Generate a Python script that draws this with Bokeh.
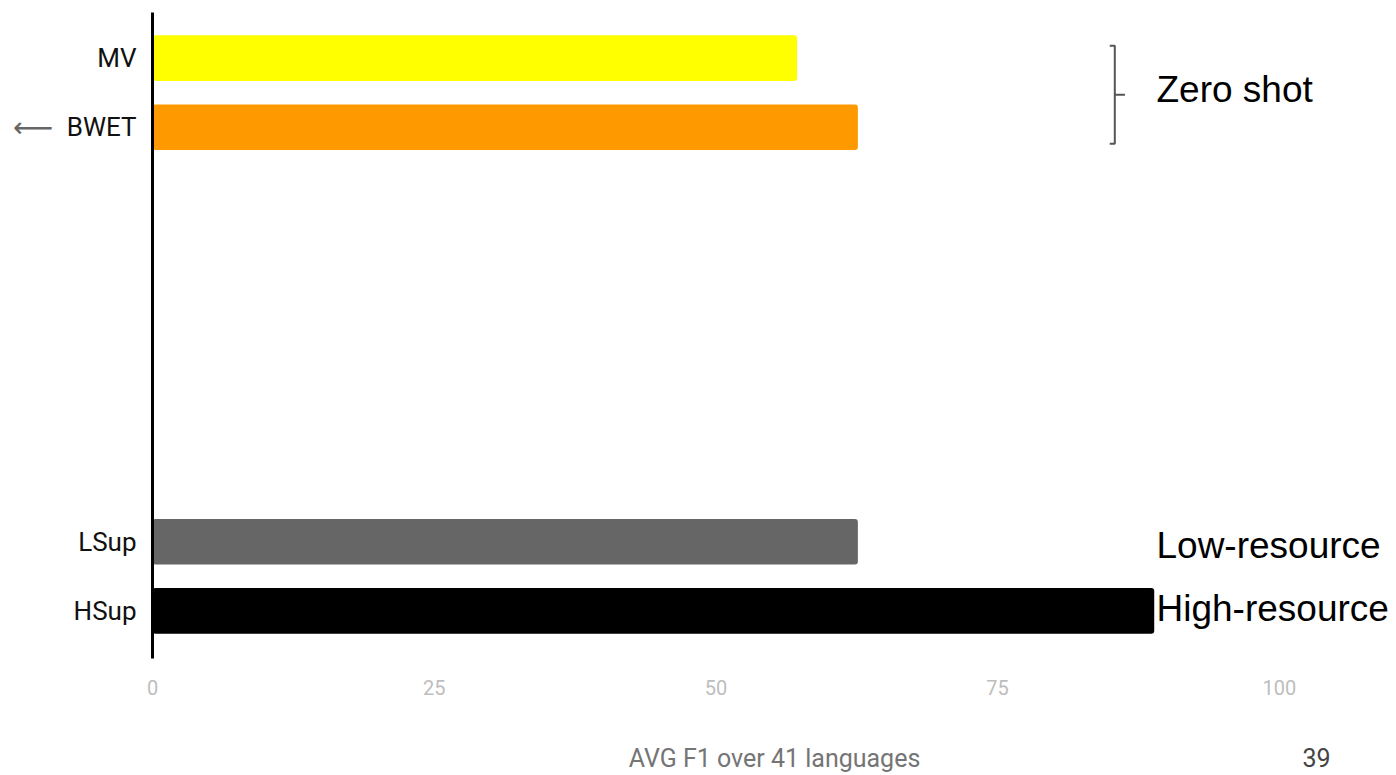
from bokeh.plotting import figure
from bokeh.models import Range1d, FixedTicker, Label, LinearAxis
from bokeh.embed import file_html
from bokeh.resources import INLINE

# ---- data ----
categories = ["MV", "BWET", "LSup", "HSup"]
values = [57.2, 62.6, 62.6, 88.9]
colors = ["#FFFF00", "#FF9900", "#666666", "#000000"]
slots = [0, 1, 7, 8]  # vertical slot for each bar (gap between groups)
x_ticks = [0, 25, 50, 75, 100]
x_title = "AVG F1 over 41 languages"
group_labels = ["Zero shot", "Low-resource", "High-resource"]
page_number = "39"

p = figure(width=1396, height=775, output_backend="svg", toolbar_location=None,
           x_range=Range1d(0, 110.4), y_range=Range1d(8.69, -0.66),
           min_border_left=152, min_border_right=0, min_border_top=12, min_border_bottom=115)
p.outline_line_color = None
p.background_fill_color = "white"
p.border_fill_color = "white"
p.xgrid.visible = False
p.ygrid.visible = False

p.hbar(y=slots, left=0, right=values, height=0.66, color=colors, line_color=None,
       border_radius=3)

# x axis
p.xaxis.ticker = FixedTicker(ticks=x_ticks)
p.xaxis.axis_line_color = None
p.xaxis.major_tick_line_color = None
p.xaxis.minor_tick_line_color = None
p.xaxis.major_label_text_color = "#bdbdbd"
p.xaxis.major_label_text_font = "Roboto"
p.xaxis.major_label_text_font_size = "20px"
p.xaxis.major_label_standoff = 15
p.xaxis.axis_label = x_title
p.xaxis.axis_label_text_font = "Roboto"
p.xaxis.axis_label_text_font_style = "normal"
p.xaxis.axis_label_text_font_size = "25px"
p.xaxis.axis_label_text_color = "#757575"
p.xaxis.axis_label_standoff = 46

# y axis
p.yaxis.ticker = FixedTicker(ticks=slots)
p.yaxis.major_label_overrides = {s: c for s, c in zip(slots, categories)}
p.yaxis.axis_line_color = "black"
p.yaxis.axis_line_width = 3
p.yaxis.major_tick_line_color = None
p.yaxis.minor_tick_line_color = None
p.yaxis.major_label_text_font = "Roboto"
p.yaxis.major_label_text_font_size = "26px"
p.yaxis.major_label_text_color = "#111111"
p.yaxis.major_label_standoff = 10

# arrow pointing at BWET: an extra left axis carrying only an arrow glyph
arrow_axis = LinearAxis(ticker=FixedTicker(ticks=[slots[1]]),
                        major_label_overrides={slots[1]: "\u27f5"},
                        axis_line_color=None, major_tick_line_color=None,
                        minor_tick_line_color=None, major_label_standoff=4,
                        major_label_text_font="DejaVu Sans",
                        major_label_text_font_size="28px",
                        major_label_text_color="#666666")
p.add_layout(arrow_axis, "left")

# slide page number: an extra bottom axis carrying one label
page_axis = LinearAxis(ticker=FixedTicker(ticks=[103.3]),
                       major_label_overrides={103.3: page_number},
                       axis_line_color=None, major_tick_line_color=None,
                       minor_tick_line_color=None, major_label_standoff=-34,
                       major_label_text_font="Roboto",
                       major_label_text_font_size="25px",
                       major_label_text_color="#444444")
p.add_layout(page_axis, "below")

# bracket for zero-shot group
bx = 85.4
top, bot = slots[0] - 0.18, slots[1] + 0.24
mid = (top + bot) / 2
p.line([bx - 0.45, bx, bx, bx - 0.45], [top, top, bot, bot], line_color="#555555", line_width=2)
p.line([bx, bx + 0.9], [mid, mid], line_color="#555555", line_width=2)

lx = 89.1
for txt, y in zip(group_labels, [mid - 0.08, slots[2] + 0.05, slots[3] - 0.035]):
    p.add_layout(Label(x=lx, y=y, text=txt, text_font="Liberation Sans",
                       text_font_size="37px", text_color="black", text_baseline="alphabetic"))

open("out.html", "w").write(file_html(p, INLINE))
